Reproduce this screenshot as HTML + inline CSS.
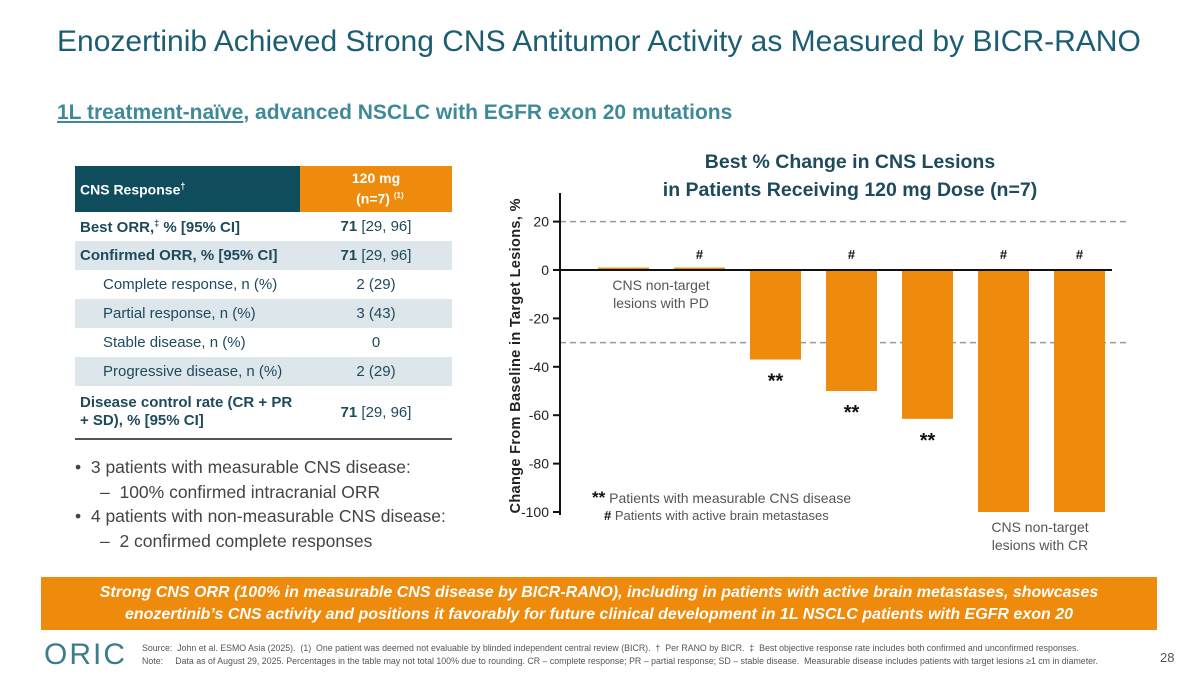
<!DOCTYPE html>
<html><head><meta charset="utf-8"><style>
body{margin:0;width:1200px;height:675px;position:relative;background:#fff;font-family:"Liberation Sans",Arial,sans-serif;overflow:hidden}
.a{position:absolute}
table{border-collapse:collapse}
td{padding:0 0 0 5px;font-size:15px;color:#1e4a5c;height:29px}
td.v{text-align:center;padding:0}
tr.g td{background:#dde6ea}
.ind{padding-left:28px}
</style></head><body>
<div class="a" style="left:57px;top:25px;font-size:30px;color:#1b5d72">Enozertinib Achieved Strong CNS Antitumor Activity as Measured by BICR-RANO</div>
<div class="a" style="left:57px;top:101px;font-size:21px;font-weight:bold;color:#3f8a9a"><span style="text-decoration:underline">1L treatment-naïve</span>, advanced NSCLC with EGFR exon 20 mutations</div>

<table class="a" style="left:75px;top:166px;width:377px;border-bottom:2px solid #555">
<tr><td style="background:#0f4c5c;color:#fff;font-weight:bold;height:46px;width:220px;font-size:14px">CNS Response<sup style="font-size:9px">†</sup></td><td class="v" style="background:#ee8a0c;color:#fff;font-weight:bold;font-size:14px;line-height:17px">120 mg<br>&nbsp;&nbsp;(n=7) <sup style="font-size:8px">(1)</sup></td></tr>
<tr><td style="font-weight:bold">Best ORR,<sup style="font-size:9px">‡</sup> % [95% CI]</td><td class="v"><b>71</b> [29, 96]</td></tr>
<tr class="g"><td style="font-weight:bold">Confirmed ORR, % [95% CI]</td><td class="v"><b>71</b> [29, 96]</td></tr>
<tr><td class="ind">Complete response, n (%)</td><td class="v">2 (29)</td></tr>
<tr class="g"><td class="ind">Partial response, n (%)</td><td class="v">3 (43)</td></tr>
<tr><td class="ind">Stable disease, n (%)</td><td class="v">0</td></tr>
<tr class="g"><td class="ind">Progressive disease, n (%)</td><td class="v">2 (29)</td></tr>
<tr><td style="font-weight:bold;height:52px;line-height:18px">Disease control rate (CR + PR + SD), % [95% CI]</td><td class="v"><b>71</b> [29, 96]</td></tr>
</table>

<div class="a" style="left:75px;top:455px;font-size:17.5px;color:#444;line-height:24.5px">
<div>• &nbsp;3 patients with measurable CNS disease:</div>
<div style="padding-left:25px">– &nbsp;100% confirmed intracranial ORR</div>
<div>• &nbsp;4 patients with non-measurable CNS disease:</div>
<div style="padding-left:25px">– &nbsp;2 confirmed complete responses</div>
</div>

<div class="a" style="left:640px;top:148px;width:420px;text-align:center;font-size:19.5px;font-weight:bold;color:#1e4a5c;line-height:28px">Best % Change in CNS Lesions<br>in Patients Receiving 120 mg Dose (n=7)</div>

<svg class="a" id="chart" style="left:0;top:0" width="1200" height="675"></svg>

<div class="a" style="left:41px;top:577px;width:1116px;height:53px;background:#ee8a0c;color:#fff;font-weight:bold;font-style:italic;font-size:16px;text-align:center;line-height:22px;padding-top:5px;box-sizing:border-box">Strong CNS ORR (100% in measurable CNS disease by BICR-RANO), including in patients with active brain metastases, showcases<br>enozertinib’s CNS activity and positions it favorably for future clinical development in 1L NSCLC patients with EGFR exon 20</div>

<div class="a" style="left:44px;top:638px;font-size:30px;letter-spacing:2px;color:#3b7d8c">ORIC</div>
<div class="a" style="left:142px;top:642px;font-size:8.8px;color:#555;line-height:12.5px;white-space:nowrap">Source:&nbsp; John et al. ESMO Asia (2025).&nbsp; (1)&nbsp; One patient was deemed not evaluable by blinded independent central review (BICR).&nbsp; † &nbsp;Per RANO by BICR.&nbsp; ‡ &nbsp;Best objective response rate includes both confirmed and unconfirmed responses.<br>Note:&nbsp;&nbsp;&nbsp;&nbsp; Data as of August 29, 2025. Percentages in the table may not total 100% due to rounding. CR – complete response; PR – partial response; SD – stable disease.&nbsp; Measurable disease includes patients with target lesions ≥1 cm in diameter.</div>
<div class="a" style="left:1160px;top:650px;font-size:13px;color:#555">28</div>

<script>
const patients=["P1","P2","P3","P4","P5","P6","P7"];
const changes=[1,1,-37,-50,-61.5,-100,-100];
const activeBrainMets=[false,true,false,true,false,true,true];
const measurable=[false,false,true,true,true,false,false];
const ticks=[20,0,-20,-40,-60,-80,-100];
const NS="http://www.w3.org/2000/svg";
const svg=document.getElementById('chart');
const y=v=>270-v*2.42;
const x=i=>598+i*76;
const bw=51;
function el(t,a,txt){const e=document.createElementNS(NS,t);for(const k in a)e.setAttribute(k,a[k]);if(txt!=null)e.textContent=txt;svg.appendChild(e);return e;}
let d=el('line',{x1:560,x2:1130,y1:y(20),y2:y(20),stroke:'#999','stroke-dasharray':'6,4','stroke-width':1.5});


d=el('line',{x1:560,x2:1130,y1:y(-30),y2:y(-30),stroke:'#999','stroke-dasharray':'6,4','stroke-width':1.5});


changes.forEach((v,i)=>{
 const r=el('rect',{x:x(i),width:bw,y:Math.min(y(v),y(0)),height:Math.abs(y(v)-y(0)),fill:'#ee8a0c'});
 
 
 if(activeBrainMets[i]){
  const t=el('text',{x:x(i)+bw/2,y:y(0)-11,'text-anchor':'middle','font-size':13,'font-weight':'bold',fill:'#111'},'#');
  
  
 }
 if(measurable[i]){
  const t=el('text',{x:x(i)+bw/2,y:y(v)+28,'text-anchor':'middle','font-size':20,'font-weight':'bold',fill:'#111'},'**');
  
  
 }
});
let a=el('line',{x1:560,x2:560,y1:193,y2:515,stroke:'#111','stroke-width':2});


a=el('line',{x1:553,x2:1112,y1:y(0),y2:y(0),stroke:'#111','stroke-width':2});


ticks.forEach(t=>{
 el('line',{x1:553,x2:560,y1:y(t),y2:y(t),stroke:'#111','stroke-width':2});
 const l=el('text',{x:549,y:y(t)+5,'text-anchor':'end','font-size':14,fill:'#222'},String(t));
 
 
});
let yt=el('text',{transform:'translate(520,356) rotate(-90)','text-anchor':'middle','font-size':14.5,'font-weight':'bold',fill:'#222'},'Change From Baseline in Target Lesions, %');


yt.setAttribute('textLength','315');
function lab(tx,xx,yy,name){const t=el('text',{x:xx,y:yy,'text-anchor':'middle','font-size':14,fill:'#555'},tx);}
lab('CNS non-target',661,290,'annotation-pd');lab('lesions with PD',661,308,'annotation-pd');
lab('CNS non-target',1040,532,'annotation-cr');lab('lesions with CR',1040,550,'annotation-cr');
let lg=el('text',{x:592,y:503,'font-size':14,fill:'#555'});lg.innerHTML='<tspan font-weight="bold" fill="#111" font-size="17">**</tspan> Patients with measurable CNS disease';


lg=el('text',{x:604,y:520,'font-size':13,fill:'#555'});lg.innerHTML='<tspan font-weight="bold" fill="#111">#</tspan> Patients with active brain metastases';


</script>
</body></html>
